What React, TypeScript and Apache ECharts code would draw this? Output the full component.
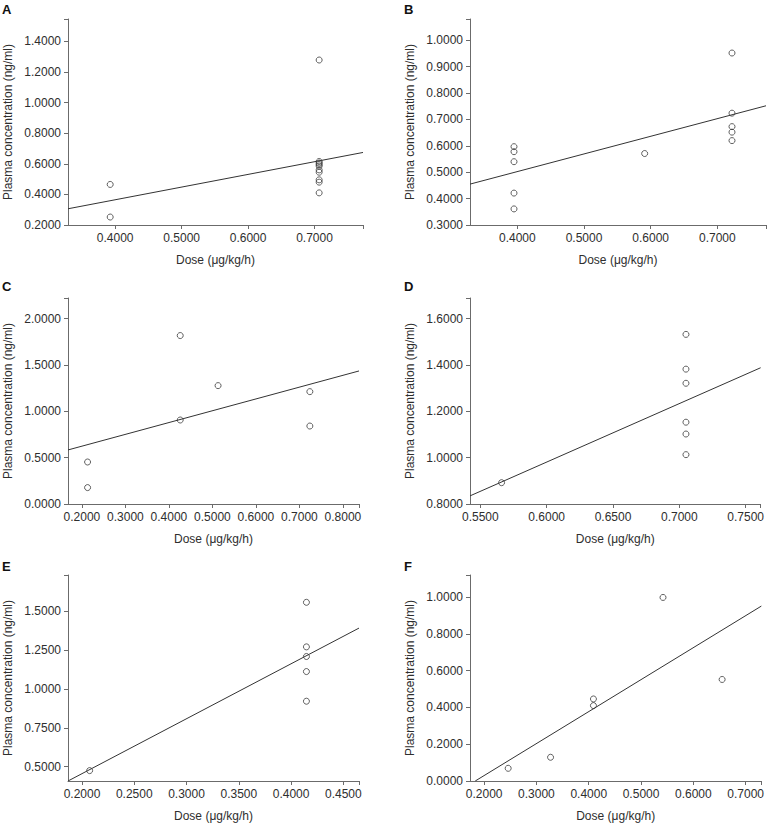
import React, { useEffect, useRef } from "react";
import * as echarts from "echarts";

const panelLetters = ["A", "B", "C", "D", "E", "F"];
const xAxisTitle = "Dose (μg/kg/h)";
const yAxisTitle = "Plasma concentration (ng/ml)";

// Panel A
const aDose = [0.3925, 0.3925, 0.707, 0.707, 0.707, 0.707, 0.707, 0.707, 0.707, 0.707, 0.707, 0.707];
const aConc = [0.465, 0.252, 1.278, 0.615, 0.605, 0.595, 0.585, 0.56, 0.545, 0.495, 0.48, 0.41];
const aFitDose = [0.329, 0.773];
const aFitConc = [0.306, 0.674];
const aXRange = [0.329, 0.773];
const aXTicks = [0.4, 0.5, 0.6, 0.7];
const aYRange = [0.2, 1.546];
const aYTicks = [0.2, 0.4, 0.6, 0.8, 1.0, 1.2, 1.4];

// Panel B
const bDose = [0.395, 0.395, 0.395, 0.395, 0.395, 0.591, 0.722, 0.722, 0.722, 0.722, 0.722];
const bConc = [0.597, 0.578, 0.54, 0.421, 0.361, 0.571, 0.952, 0.724, 0.673, 0.652, 0.62];
const bFitDose = [0.329, 0.773];
const bFitConc = [0.455, 0.752];
const bXRange = [0.329, 0.773];
const bXTicks = [0.4, 0.5, 0.6, 0.7];
const bYRange = [0.3, 1.081];
const bYTicks = [0.3, 0.4, 0.5, 0.6, 0.7, 0.8, 0.9, 1.0];

// Panel C
const cDose = [0.213, 0.213, 0.426, 0.426, 0.513, 0.724, 0.724];
const cConc = [0.453, 0.177, 1.817, 0.906, 1.277, 1.212, 0.841];
const cFitDose = [0.168, 0.837];
const cFitConc = [0.583, 1.435];
const cXRange = [0.168, 0.837];
const cXTicks = [0.2, 0.3, 0.4, 0.5, 0.6, 0.7, 0.8];
const cYRange = [0, 2.222];
const cYTicks = [0, 0.5, 1.0, 1.5, 2.0];

// Panel D
const dDose = [0.566, 0.705, 0.705, 0.705, 0.705, 0.705, 0.705];
const dConc = [0.892, 1.532, 1.382, 1.321, 1.153, 1.102, 1.013];
const dFitDose = [0.5422, 0.7613];
const dFitConc = [0.835, 1.388];
const dXRange = [0.5422, 0.7613];
const dXTicks = [0.55, 0.6, 0.65, 0.7, 0.75];
const dYRange = [0.8, 1.689];
const dYTicks = [0.8, 1.0, 1.2, 1.4, 1.6];

// Panel E
const eDose = [0.2073, 0.4147, 0.4147, 0.4147, 0.4147, 0.4147];
const eConc = [0.474, 1.558, 1.271, 1.209, 1.112, 0.921];
const eFitDose = [0.1866, 0.465];
const eFitConc = [0.407, 1.392];
const eXRange = [0.1866, 0.465];
const eXTicks = [0.2, 0.25, 0.3, 0.35, 0.4, 0.45];
const eYRange = [0.407, 1.734];
const eYTicks = [0.5, 0.75, 1.0, 1.25, 1.5];

// Panel F
const fDose = [0.246, 0.327, 0.409, 0.409, 0.542, 0.655];
const fConc = [0.069, 0.129, 0.446, 0.41, 0.998, 0.552];
const fFitDose = [0.183, 0.73];
const fFitConc = [0.0, 0.951];
const fXRange = [0.173, 0.73];
const fXTicks = [0.2, 0.3, 0.4, 0.5, 0.6, 0.7];
const fYRange = [0, 1.12];
const fYTicks = [0, 0.2, 0.4, 0.6, 0.8, 1.0];

const panels = [
  { dose: aDose, conc: aConc, fitDose: aFitDose, fitConc: aFitConc, xRange: aXRange, xTicks: aXTicks, yRange: aYRange, yTicks: aYTicks },
  { dose: bDose, conc: bConc, fitDose: bFitDose, fitConc: bFitConc, xRange: bXRange, xTicks: bXTicks, yRange: bYRange, yTicks: bYTicks },
  { dose: cDose, conc: cConc, fitDose: cFitDose, fitConc: cFitConc, xRange: cXRange, xTicks: cXTicks, yRange: cYRange, yTicks: cYTicks },
  { dose: dDose, conc: dConc, fitDose: dFitDose, fitConc: dFitConc, xRange: dXRange, xTicks: dXTicks, yRange: dYRange, yTicks: dYTicks },
  { dose: eDose, conc: eConc, fitDose: eFitDose, fitConc: eFitConc, xRange: eXRange, xTicks: eXTicks, yRange: eYRange, yTicks: eYTicks },
  { dose: fDose, conc: fConc, fitDose: fFitDose, fitConc: fFitConc, xRange: fXRange, xTicks: fXTicks, yRange: fYRange, yTicks: fYTicks },
];

// layout
const gridBoxes = [
  { left: 68, top: 19, width: 295, height: 206 },
  { left: 470, top: 19, width: 296, height: 206 },
  { left: 68, top: 298, width: 291, height: 206 },
  { left: 470, top: 298, width: 292, height: 206 },
  { left: 68, top: 575, width: 291, height: 206 },
  { left: 470, top: 575, width: 292, height: 206 },
];
const letterPos = [
  [2, 3],
  [404, 3],
  [2, 280],
  [404, 280],
  [2, 560],
  [404, 560],
];

const FONT = "Liberation Sans, Arial, sans-serif";
const TEXT = "#2e2e2e";
const AXIS = "#6b6b6b";

export default function App() {
  const ref = useRef<HTMLDivElement>(null);
  useEffect(() => {
    if (!ref.current) return;
    const chart = echarts.init(ref.current, null, { renderer: "svg" });
    const fmt = (v: number) => v.toFixed(4);
    const xAxes = panels.map((p, i) => ({
      type: "value",
      gridIndex: i,
      min: p.xRange[0],
      max: p.xRange[1],
      splitLine: { show: false },
      axisLine: { show: true, onZero: false, lineStyle: { color: AXIS, width: 1 } },
      axisTick: { show: true, length: 4, lineStyle: { color: AXIS }, customValues: [...p.xTicks, p.xRange[1]] },
      axisLabel: { customValues: p.xTicks, formatter: fmt, color: TEXT, fontSize: 12, fontFamily: FONT, margin: 7 },
      name: xAxisTitle,
      nameLocation: "middle",
      nameGap: 29,
      nameTextStyle: { color: TEXT, fontSize: 12, fontFamily: FONT },
    }));
    const yAxes = panels.map((p, i) => ({
      type: "value",
      gridIndex: i,
      min: p.yRange[0],
      max: p.yRange[1],
      splitLine: { show: false },
      axisLine: { show: true, onZero: false, lineStyle: { color: AXIS, width: 1 } },
      axisTick: { show: true, length: 4, lineStyle: { color: AXIS }, customValues: [...p.yTicks, p.yRange[1]] },
      axisLabel: { customValues: p.yTicks, formatter: fmt, color: TEXT, fontSize: 12, fontFamily: FONT, margin: 7 },
      name: yAxisTitle,
      nameLocation: "middle",
      nameGap: 54,
      nameTextStyle: { color: TEXT, fontSize: 12, fontFamily: FONT },
    }));
    const series: any[] = [];
    panels.forEach((p, i) => {
      series.push({
        type: "scatter",
        xAxisIndex: i,
        yAxisIndex: i,
        data: p.dose.map((d, k) => [d, p.conc[k]]),
        symbol: "circle",
        symbolSize: 6,
        itemStyle: { color: "rgba(0,0,0,0)", borderColor: "#3a3a3a", borderWidth: 1 },
        silent: true,
      });
      series.push({
        type: "line",
        xAxisIndex: i,
        yAxisIndex: i,
        data: p.fitDose.map((d, k) => [d, p.fitConc[k]]),
        symbol: "none",
        lineStyle: { color: "#333", width: 1 },
        silent: true,
      });
    });
    chart.setOption({
      animation: false,
      backgroundColor: "#fff",
      grid: gridBoxes.map((g) => ({ ...g, containLabel: false })),
      xAxis: xAxes,
      yAxis: yAxes,
      series,
      graphic: panelLetters.map((t, i) => ({
        type: "text",
        left: letterPos[i][0],
        top: letterPos[i][1],
        style: { text: t, font: `bold 13px ${FONT}`, fill: "#111" },
      })),
    });
    return () => chart.dispose();
  }, []);
  return (
    <div
      ref={ref}
      style={{ position: "absolute", left: 0, top: 0, width: 767, height: 825 }}
    />
  );
}
